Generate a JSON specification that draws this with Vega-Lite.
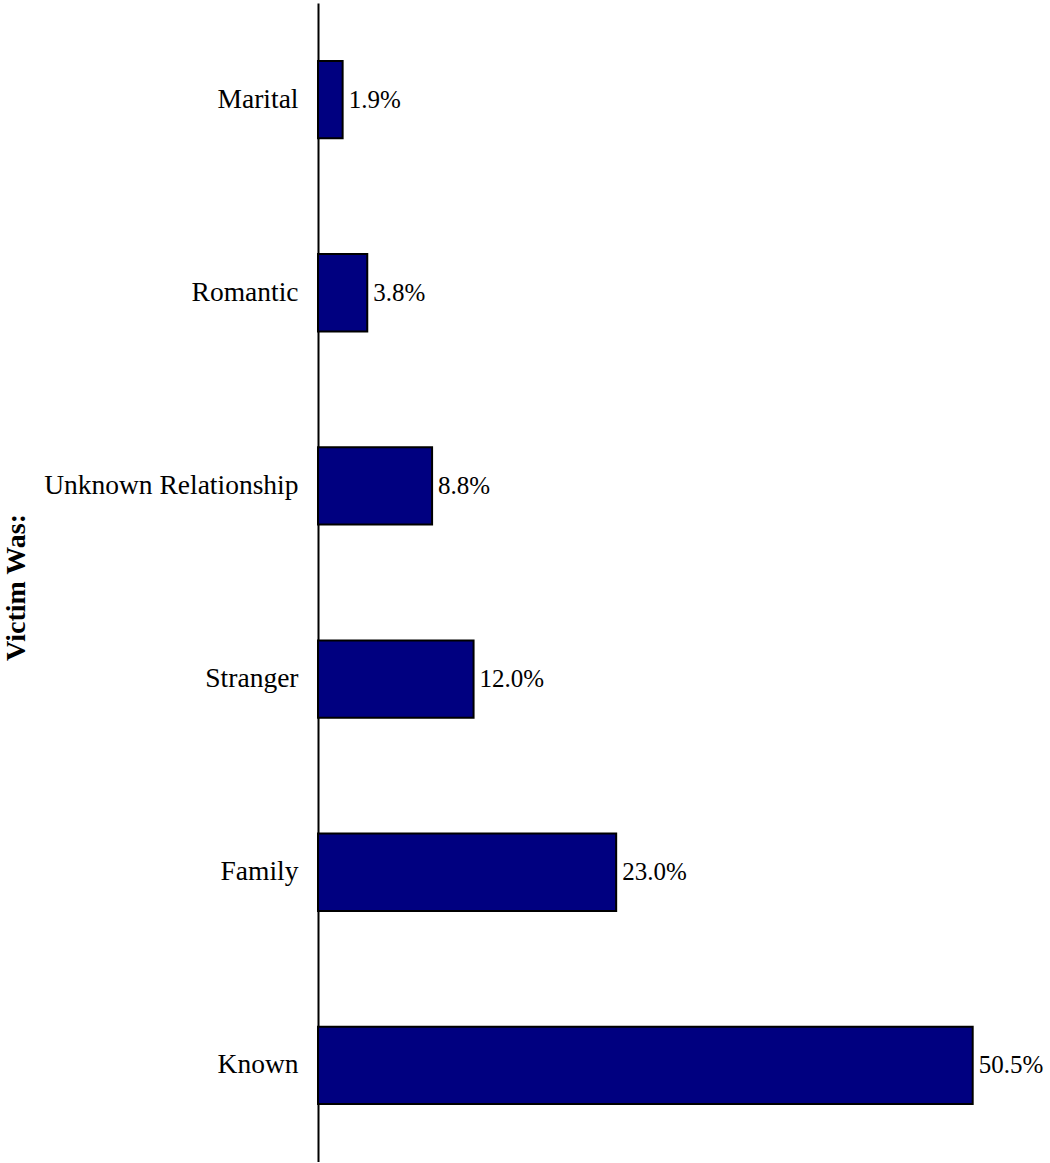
{
  "$schema": "https://vega.github.io/schema/vega-lite/v6.json",
  "autosize": "none",
  "padding": {"left": 318, "top": 3, "right": 0, "bottom": 0},
  "width": 726,
  "height": 1159,
  "background": "white",
  "config": {"view": {"stroke": null}, "font": "Times New Roman, Liberation Serif, serif"},
  "data": {"values": [
    {"victim": "Marital", "pct": 1.9, "label": "1.9%"},
    {"victim": "Romantic", "pct": 3.8, "label": "3.8%"},
    {"victim": "Unknown Relationship", "pct": 8.8, "label": "8.8%"},
    {"victim": "Stranger", "pct": 12.0, "label": "12.0%"},
    {"victim": "Family", "pct": 23.0, "label": "23.0%"},
    {"victim": "Known", "pct": 50.5, "label": "50.5%"}
  ]},
  "encoding": {
    "y": {
      "field": "victim", "type": "nominal",
      "sort": ["Marital", "Romantic", "Unknown Relationship", "Stranger", "Family", "Known"],
      "scale": {"paddingInner": 0.6, "paddingOuter": 0.3},
      "axis": {
        "title": "Victim Was:",
        "titleFont": "Times New Roman, Liberation Serif, serif",
        "titleFontSize": 28,
        "titleFontWeight": "bold",
        "titleColor": "black",
        "titleX": -302,
        "titleY": 584,
        "titleBaseline": "middle",
        "labelFont": "Times New Roman, Liberation Serif, serif",
        "labelFontSize": 27.5,
        "labelColor": "black",
        "labelPadding": 20,
        "labelLimit": 0,
        "ticks": false,
        "domainColor": "black",
        "domainWidth": 2
      }
    },
    "x": {
      "field": "pct", "type": "quantitative",
      "scale": {"domain": [0, 56]},
      "axis": null
    }
  },
  "layer": [
    {"mark": {"type": "bar", "fill": "#000080", "stroke": "black", "strokeWidth": 2}},
    {"mark": {"type": "text", "align": "left", "baseline": "middle", "dx": 6, "font": "Times New Roman, Liberation Serif, serif", "fontSize": 25, "color": "black"},
     "encoding": {"text": {"field": "label"}}}
  ]
}
